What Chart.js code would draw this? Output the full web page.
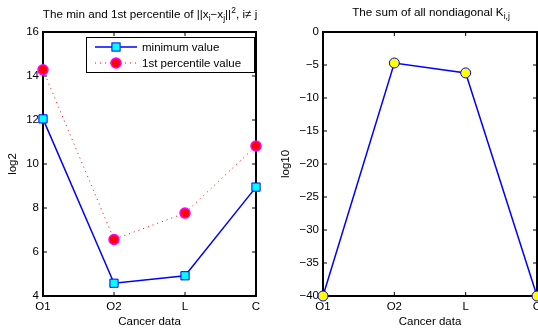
<!DOCTYPE html>
<html><head><meta charset="utf-8">
<script src="https://cdn.jsdelivr.net/npm/chart.js@4/dist/chart.umd.min.js"></script>
<style>
html,body{margin:0;padding:0;background:#fff;overflow:hidden;width:538px;height:330px;}
.wrap{position:absolute;top:0;}
.ttl{position:absolute;font-family:"Liberation Sans",Arial,sans-serif;font-size:11.7px;color:#000;white-space:nowrap;transform:translateX(-50%);top:5px;}
.ttl sub,.ttl sup{font-size:8.5px;}
</style></head><body>
<div class="wrap" style="left:0;width:270px;height:330px"><canvas id="c1" width="270" height="330"></canvas></div>
<div class="wrap" style="left:270px;width:290px;height:330px"><canvas id="c2" width="290" height="330"></canvas></div>
<div class="ttl" style="left:150px">The min and 1st percentile of ||x<sub>i</sub>−x<sub>j</sub>||<sup>2</sup>, i≠ j</div>
<div class="ttl" style="left:431px">The sum of all nondiagonal K<sub>i,j</sub></div>
<script>
const categories = ['O1', 'O2', 'L', 'C'];
const minimumValues = [12.05, 4.58, 4.92, 8.95];
const percentileValues = [14.28, 6.57, 7.77, 10.82];
const sumValues = [-40, -4.7, -6.2, -40];

const FONT = "'Liberation Sans', Arial, sans-serif";
Chart.defaults.font.family = FONT;
Chart.defaults.font.size = 11.5;
Chart.defaults.color = '#000';

const boxPlugin = {
  id: 'box',
  beforeDatasetsDraw(chart) {
    const {ctx, chartArea: a, scales} = chart;
    ctx.save();
    ctx.strokeStyle = '#000';
    ctx.lineWidth = 1;
    const L = 4;
    ctx.beginPath();
    scales.x.ticks.forEach((t, i) => {
      const x = scales.x.getPixelForTick(i);
      ctx.moveTo(x, a.bottom); ctx.lineTo(x, a.bottom - L);
      ctx.moveTo(x, a.top); ctx.lineTo(x, a.top + L);
    });
    scales.y.ticks.forEach((t, i) => {
      const y = scales.y.getPixelForTick(i);
      ctx.moveTo(a.left, y); ctx.lineTo(a.left + L, y);
      ctx.moveTo(a.right, y); ctx.lineTo(a.right - L, y);
    });
    ctx.stroke();
    ctx.lineWidth = 2;
    ctx.strokeRect(a.left, a.top, a.right - a.left, a.bottom - a.top);
    ctx.restore();
  }
};

const legendPlugin = {
  id: 'mlegend',
  afterDraw(chart) {
    const {ctx} = chart;
    const x0 = 86, y0 = 37, w = 168, h = 35;
    ctx.save();
    ctx.fillStyle = '#fff';
    ctx.fillRect(x0, y0, w, h);
    ctx.strokeStyle = '#000';
    ctx.lineWidth = 1;
    ctx.strokeRect(x0 + 0.5, y0 + 0.5, w, h);
    const rows = [47, 63];
    chart.data.datasets.forEach((ds, i) => {
      const y = rows[i];
      ctx.strokeStyle = ds.borderColor;
      ctx.lineWidth = ds.borderWidth;
      ctx.setLineDash(ds.borderDash || []);
      ctx.beginPath(); ctx.moveTo(95, y); ctx.lineTo(137, y); ctx.stroke();
      ctx.setLineDash([]);
      ctx.fillStyle = ds.pointBackgroundColor;
      ctx.strokeStyle = ds.pointBorderColor;
      ctx.lineWidth = ds.pointBorderWidth;
      const r = ds.pointRadius;
      if (ds.pointStyle === 'rect') {
        const s = r * Math.SQRT1_2;
        ctx.fillRect(116 - s, y - s, 2 * s, 2 * s);
        ctx.strokeRect(116 - s, y - s, 2 * s, 2 * s);
      } else {
        ctx.beginPath(); ctx.arc(116, y, r, 0, Math.PI * 2); ctx.fill(); ctx.stroke();
      }
      ctx.fillStyle = '#000';
      ctx.font = '11.5px ' + FONT;
      ctx.textBaseline = 'middle';
      ctx.fillText(ds.label, 142, y + 0.5);
    });
    ctx.restore();
  }
};

const minus = v => String(v).replace('-', '\u2212');

function baseOptions(yMin, yMax, step, yTitle, yWidth, titlePad, padRight) {
  return {
    responsive: false,
    devicePixelRatio: 1,
    animation: false,
    layout: {padding: {top: 32, right: padRight, left: 0, bottom: 0}},
    plugins: {legend: {display: false}, tooltip: {enabled: false}},
    scales: {
      x: {
        type: 'category', offset: false,
        grid: {display: false, drawTicks: false},
        border: {display: false},
        ticks: {padding: 4, maxRotation: 0, autoSkip: false},
        title: {display: true, text: 'Cancer data', padding: {top: 0, bottom: 1}},
        afterFit(s) { s.height = 34; }
      },
      y: {
        min: yMin, max: yMax,
        grid: {display: false, drawTicks: false},
        border: {display: false},
        ticks: {stepSize: step, padding: 4, callback: v => minus(v)},
        title: {display: true, text: yTitle, padding: {top: titlePad, bottom: 0}},
        afterFit(s) { s.width = yWidth; }
      }
    }
  };
}

new Chart(document.getElementById('c1'), {
  type: 'line',
  data: {
    labels: categories,
    datasets: [
      {
        label: 'minimum value', data: minimumValues,
        borderColor: '#0000ff', borderWidth: 1.5,
        pointStyle: 'rect', pointRadius: 5.8, pointBackgroundColor: '#00ffff',
        pointBorderColor: '#0000ff', pointBorderWidth: 1, clip: false, tension: 0
      },
      {
        label: '1st percentile value', data: percentileValues,
        borderColor: '#ff0000', borderWidth: 1, borderDash: [1, 4],
        pointStyle: 'circle', pointRadius: 5, pointBackgroundColor: '#ff0000',
        pointBorderColor: '#ff00ff', pointBorderWidth: 1.5, clip: false, tension: 0
      }
    ]
  },
  options: baseOptions(4, 16, 2, 'log2', 43, 6, 14),
  plugins: [boxPlugin, legendPlugin]
});

new Chart(document.getElementById('c2'), {
  type: 'line',
  data: {
    labels: categories,
    datasets: [
      {
        label: 'sum', data: sumValues,
        borderColor: '#0000ff', borderWidth: 1.5,
        pointStyle: 'circle', pointRadius: 5, pointBackgroundColor: '#ffff00',
        pointBorderColor: '#0000ff', pointBorderWidth: 1, clip: false, tension: 0
      }
    ]
  },
  options: baseOptions(-40, 0, 5, 'log10', 53, 9, 23),
  plugins: [boxPlugin]
});
</script>
</body></html>
